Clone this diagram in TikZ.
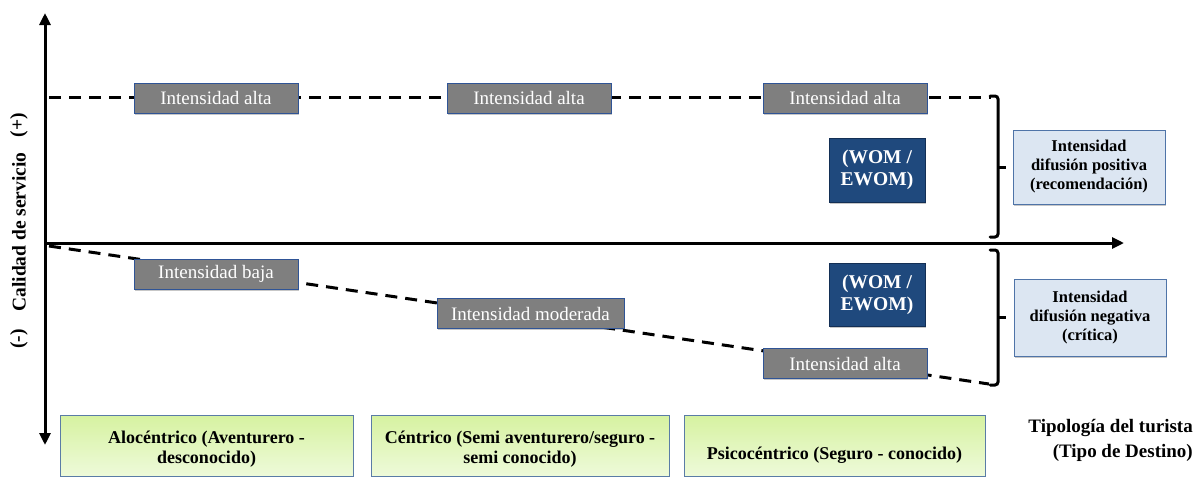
\documentclass[tikz,border=0pt]{standalone}
\usepackage{fontspec}
\setmainfont{Liberation Serif}
\usetikzlibrary{arrows.meta,shadows}

\definecolor{boxgray}{HTML}{7F7F7F}
\definecolor{boxedge}{HTML}{2F5496}
\definecolor{womblue}{HTML}{1F497D}
\definecolor{womedge}{HTML}{132F55}
\definecolor{paleblue}{HTML}{DCE6F2}
\definecolor{paleedge}{HTML}{4F74A8}
\definecolor{greentop}{HTML}{D6F2A0}
\definecolor{greenbot}{HTML}{EEFADA}
\definecolor{greenedge}{HTML}{5A7CA6}

\pgfdeclarelayer{background}
\pgfsetlayers{background,main}

\tikzset{
  softshadow/.style={drop shadow={shadow xshift=1.2pt, shadow yshift=-1.8pt, opacity=0.22, fill=black}},
  graybox/.style={draw=boxedge, line width=0.9pt, fill=boxgray, text=white, inner sep=0pt,
    minimum height=30pt, minimum width=164pt, softshadow,
    font=\fontsize{19}{22}\selectfont},
  wombox/.style={draw=womedge, line width=1pt, fill=womblue, text=white, inner sep=0pt,
    minimum width=96pt, align=center, softshadow,
    font=\bfseries\fontsize{19.5}{22}\selectfont},
  sidebox/.style={draw=paleedge, line width=1pt, fill=paleblue, inner sep=0pt,
    minimum width=152pt, align=center, softshadow,
    font=\bfseries\fontsize{16.5}{19}\selectfont},
  greenbox/.style={draw=greenedge, line width=1pt, top color=greentop, bottom color=greenbot,
    inner sep=0pt, minimum height=61pt},
  greentext/.style={align=center, inner sep=0pt, font=\bfseries\fontsize{18}{20}\selectfont},
  axisline/.style={line width=3pt, -{Triangle[length=12pt,width=11pt]}},
  dashline/.style={line width=3pt, dash pattern=on 12pt off 8pt},
  bracketline/.style={line width=3pt, rounded corners=3pt, line cap=round},
  sidelabel/.style={inner sep=0pt, font=\bfseries\fontsize{19.5}{22}\selectfont},
}

\begin{document}
\begin{tikzpicture}[x=1pt,y=-1pt]
\useasboundingbox (0,0) rectangle (1201,477);

% reference points of axes, dashed levels and brackets
\coordinate (origin) at (45,243);
\coordinate (ytop) at (45,13);
\coordinate (ybot) at (45,445);
\coordinate (xend) at (1124,243);
\coordinate (hiA) at (49,97);
\coordinate (hiB) at (991,97);
\coordinate (loA) at (49,246);
\coordinate (loB) at (989,384);

% intensity boxes, upper level
\node[graybox] (a1) at (216,98) {Intensidad alta};
\node[graybox] (a2) at (529,98) {Intensidad alta};
\node[graybox] (a3) at (845,98) {Intensidad alta};

% intensity boxes, lower level
\node[graybox] (b1) at (216,274) {Intensidad baja};
\node[graybox, minimum width=187pt] (b2) at (530.5,313.5) {Intensidad moderada};
\node[graybox] (b3) at (845,363.5) {Intensidad alta};

% word of mouth boxes
\node[wombox, minimum height=64pt] (w1) at (877,170) {(WOM /\\EWOM)};
\node[wombox, minimum height=63pt] (w2) at (877,294.5) {(WOM /\\EWOM)};

% diffusion boxes
\node[sidebox, minimum height=74pt] (d1) at (1089,167) {Intensidad\\difusión positiva\\(recomendación)};
\node[sidebox, minimum height=77pt] (d2) at (1090,317.5) {Intensidad\\difusión negativa\\(crítica)};

% tourist typology boxes
\node[greenbox, minimum width=293pt] (g1) at (206.5,445.5) {};
\node[greenbox, minimum width=298pt] (g2) at (520,445.5) {};
\node[greenbox, minimum width=301pt] (g3) at (834.5,445.5) {};
\node[greentext] (g1t) at (206.5,449) {Alocéntrico (Aventurero -\\desconocido)};
\node[greentext] (g2t) at (520,449) {Céntrico (Semi aventurero/seguro -\\semi conocido)};
\node[greentext] (g3t) at (834.5,455) {Psicocéntrico (Seguro - conocido)};

% axis titles
\node[sidelabel, rotate=90] (ylab) at (19,232) {Calidad de servicio};
\node[sidelabel, rotate=90] (yplus) at (19,125) {(+)};
\node[sidelabel, rotate=90] (yminus) at (19,339) {(-)};
\node[sidelabel, align=right, anchor=east, font=\bfseries\fontsize{19}{25}\selectfont] (xlab) at (1193,440)
  {Tipología del turista\\(Tipo de Destino)};

\begin{pgfonlayer}{background}
  \draw[dashline] (hiA) -- (hiB);
  \draw[dashline] (loA) -- (loB);
\end{pgfonlayer}

% axes
\draw[axisline, {Triangle[length=12pt,width=11pt]}-{Triangle[length=12pt,width=11pt]}] (ytop) -- (ybot);
\draw[axisline] (origin) -- (xend);

% brackets
\coordinate (ub1) at (990,96);
\coordinate (ub2) at (998,96);
\coordinate (ub3) at (998,237);
\coordinate (ub4) at (990,237);
\coordinate (um) at (998,167);
\coordinate (umt) at (1006,167);
\draw[bracketline] (ub1) -- (ub2) -- (ub3) -- (ub4);
\draw[line width=3pt] (um) -- (umt);

\coordinate (lb1) at (990,250);
\coordinate (lb2) at (998,250);
\coordinate (lb3) at (998,385);
\coordinate (lb4) at (990,385);
\coordinate (lm) at (998,317);
\coordinate (lmt) at (1006,317);
\draw[bracketline] (lb1) -- (lb2) -- (lb3) -- (lb4);
\draw[line width=3pt] (lm) -- (lmt);
\end{tikzpicture}
\end{document}
